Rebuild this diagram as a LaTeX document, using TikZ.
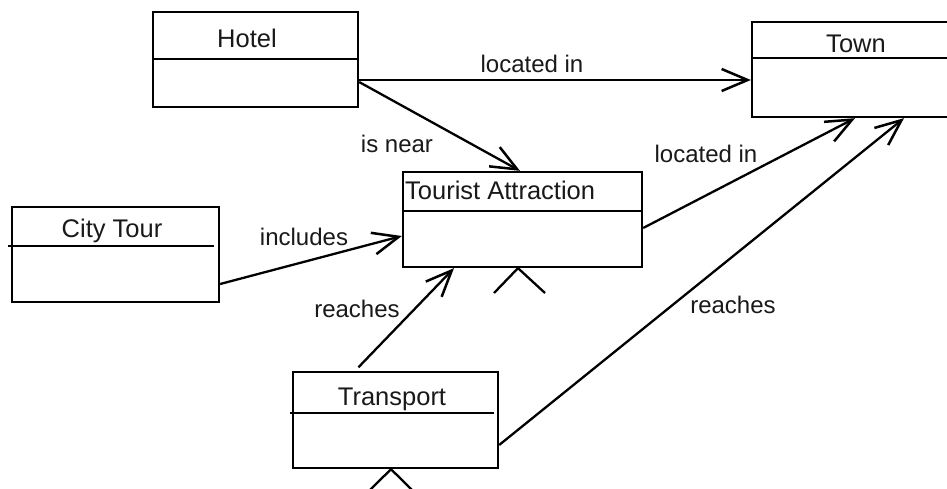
\documentclass[tikz,border=0pt]{standalone}
\usepackage{fontspec}
\setmainfont{Liberation Sans}
\usetikzlibrary{arrows.meta}
\begin{document}
\begin{tikzpicture}[x=1pt,y=-1pt,
  box/.style={draw,line width=2.3pt,rectangle,inner sep=0pt,minimum height=95pt},
  divider/.style={line width=2.3pt},
  conn/.style={line width=2.3pt,-{Straight Barb[length=26pt,width=22pt,line width=2.5pt]}},
  genline/.style={line width=2.3pt},
  title/.style={font=\fontsize{25.5}{30}\selectfont,anchor=base,inner sep=0pt,text=black!90},
  lbl/.style={font=\fontsize{24}{28}\selectfont,anchor=base,inner sep=0pt,text=black!90}]
\clip (0,0) rectangle (947,488);
\fill[white] (0,0) rectangle (947,488);

% class boxes
\node[box,minimum width=205pt] (hotel) at (255.5,59.5) {};
\node[box,minimum width=208pt] (town) at (856,69.5) {};
\node[box,minimum width=239pt] (ta) at (522.5,219.5) {};
\node[box,minimum width=207pt] (city) at (115.5,254.5) {};
\node[box,minimum width=205pt,minimum height=96pt] (transport) at (395.5,420) {};

% compartment dividers
\draw[divider] (hotel.west |- 0,59) -- (hotel.east |- 0,59);
\draw[divider] (town.west |- 0,58) -- (town.east |- 0,58);
\draw[divider] (ta.west |- 0,211) -- (ta.east |- 0,211);
\draw[divider] (8,246) -- (214,246);
\draw[divider] (290,413) -- (494,413);

% class names
\node[title] (hotelname) at (247,47) {Hotel};
\node[title] (townname) at (856,52) {Town};
\node[title,anchor=base west] (taname) at (405,199) {Tourist Attraction};
\node[title] (cityname) at (112,237) {City Tour};
\node[title] (transportname) at (392,405) {Transport};

% associations
\draw[conn] (hotel.east |- 0,80) -- (town.west |- 0,80);
\draw[conn] (hotel.east |- 0,82) -- (ta.north -| 520,0);
\draw[conn] (ta.east |- 0,228) -- (town.south -| 855,0);
\draw[conn] (city.east |- 0,284) -- (ta.west |- 0,236);
\draw[conn,shorten <=5pt] (transport.north -| 355,0) -- (ta.south -| 454,0);
\draw[conn] (transport.east |- 0,445) -- (town.south -| 904,0);

% association labels
\node[lbl] (l1) at (532,72) {located in};
\node[lbl] (l2) at (397,152) {is near};
\node[lbl] (l3) at (706,162) {located in};
\node[lbl] (l4) at (304,245) {includes};
\node[lbl] (l5) at (357,317) {reaches};
\node[lbl] (l6) at (733,313) {reaches};

% generalisation marks
\coordinate (taL) at (494,293);
\coordinate (taR) at (545,293);
\draw[genline] (taL) -- (ta.south -| 518,0) -- (taR);
\coordinate (trL) at (366,494);
\coordinate (trR) at (416,494);
\draw[genline] (trL) -- (transport.south -| 391,0) -- (trR);
\end{tikzpicture}
\end{document}
